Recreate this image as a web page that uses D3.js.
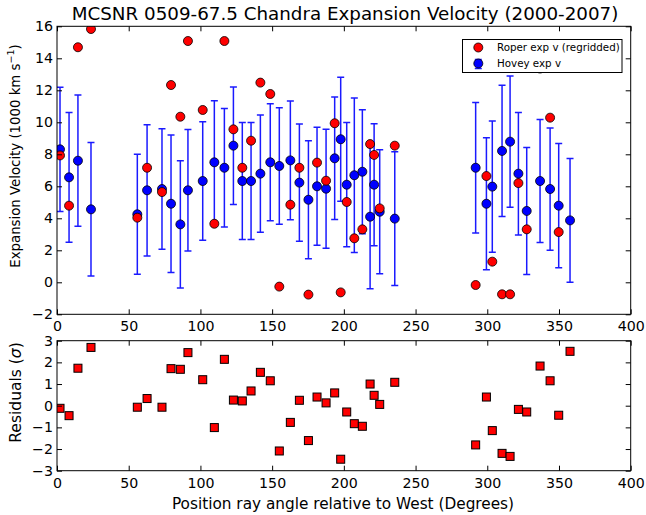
<!DOCTYPE html>
<html>
<head>
<meta charset="utf-8">
<script src="https://cdn.jsdelivr.net/npm/d3@7"></script>
<style>
  html, body { margin: 0; padding: 0; background: #fff; }
  svg { display: block; }
  text { font-family: "DejaVu Sans", sans-serif; fill: #000; }
</style>
</head>
<body>
<div id="chart"></div>
<script>
// ---- data ----
const angles = [2.1, 8.4, 14.6, 23.7, 56.0, 62.8, 73.2, 79.5, 86.0, 91.3, 101.6, 109.7, 116.7, 123.0, 129.2, 135.3, 141.8, 148.7, 155.0, 162.7, 169.0, 175.3, 181.3, 187.6, 193.6, 197.8, 202.0, 207.3, 212.9, 218.3, 221.1, 225.0, 235.5, 291.9, 299.4, 303.5, 310.3, 315.9, 321.7, 327.5, 336.8, 343.8, 349.8, 357.7];
const hoveyV = [8.31, 6.56, 7.60, 4.56, 4.25, 5.75, 5.83, 4.91, 3.62, 5.75, 6.33, 7.50, 7.16, 8.54, 6.33, 6.33, 6.79, 7.50, 7.27, 7.62, 6.23, 5.16, 6.00, 5.85, 7.75, 8.94, 6.10, 6.69, 6.91, 4.10, 6.10, 4.41, 3.98, 7.16, 4.91, 5.98, 8.21, 8.79, 6.79, 4.46, 6.33, 5.83, 4.79, 3.87];
const hoveyErr = [3.88, 4.05, 4.10, 4.17, 3.75, 4.10, 3.77, 4.30, 3.97, 3.80, 3.70, 3.85, 3.70, 3.67, 3.65, 3.65, 3.66, 3.66, 3.64, 3.71, 3.66, 3.69, 3.69, 3.72, 3.83, 3.88, 3.88, 4.83, 3.87, 4.50, 3.81, 3.88, 4.18, 4.08, 4.13, 4.10, 4.10, 4.10, 3.83, 3.97, 3.84, 3.82, 3.88, 3.87];
const roperV = [7.93, 4.79, 14.69, 15.83, 4.04, 7.16, 5.64, 12.33, 10.35, 15.08, 10.77, 3.66, 15.08, 9.56, 7.16, 8.85, 12.48, 11.77, -0.27, 4.85, 7.16, -0.77, 7.48, 6.35, 9.94, -0.63, 5.02, 2.75, 3.31, 8.64, 7.96, 4.62, 8.54, -0.17, 6.64, 1.29, -0.75, -0.75, 6.20, 3.31, 13.36, 10.29, 3.14, 13.60];
const residuals = [-0.12, -0.46, 1.73, 2.69, -0.07, 0.33, -0.07, 1.71, 1.68, 2.45, 1.20, -1.01, 2.14, 0.26, 0.22, 0.68, 1.54, 1.15, -2.09, -0.77, 0.25, -1.61, 0.40, 0.13, 0.59, -2.47, -0.29, -0.83, -0.95, 1.00, 0.48, 0.06, 1.08, -1.81, 0.40, -1.15, -2.20, -2.34, -0.17, -0.29, 1.83, 1.15, -0.44, 2.51];

const xTicks = [0, 50, 100, 150, 200, 250, 300, 350, 400];
const yTicksTop = [-2, 0, 2, 4, 6, 8, 10, 12, 14, 16];
const yTicksRes = [-3, -2, -1, 0, 1, 2, 3];

const titleText = "MCSNR 0509-67.5 Chandra Expansion Velocity (2000-2007)";
const xLabelText = "Position ray angle relative to West (Degrees)";
const legendLabels = ["Roper exp v (regridded)", "Hovey exp v"];

// ---- layout ----
const W = 646, H = 515;
const L = 57, R = 630.7;
const topY0 = 26.3, topY1 = 314.3;
const resY0 = 340.7, resY1 = 470.7;

const svg = d3.select("#chart").append("svg").attr("width", W).attr("height", H);
svg.append("rect").attr("width", W).attr("height", H).attr("fill", "#fff");

const x = d3.scaleLinear().domain([0, 400]).range([L, R]);
const yTop = d3.scaleLinear().domain([-2, 16]).range([topY1, topY0]);
const yRes = d3.scaleLinear().domain([-3, 3]).range([resY1, resY0]);

const fmt = d3.format("d");
const TICK = 5;

function drawAxes(y, y0, y1, yTicks) {
  const g = svg.append("g");
  g.append("g").attr("transform", `translate(0,${y1})`)
    .call(d3.axisBottom(x).tickValues(xTicks).tickFormat(fmt).tickSizeInner(-TICK).tickSizeOuter(0).tickPadding(7));
  g.append("g").attr("transform", `translate(0,${y0})`)
    .call(d3.axisTop(x).tickValues(xTicks).tickFormat("").tickSizeInner(-TICK).tickSizeOuter(0));
  g.append("g").attr("transform", `translate(${L},0)`)
    .call(d3.axisLeft(y).tickValues(yTicks).tickFormat(fmt).tickSizeInner(-TICK).tickSizeOuter(0).tickPadding(4));
  g.append("g").attr("transform", `translate(${R},0)`)
    .call(d3.axisRight(y).tickValues(yTicks).tickFormat("").tickSizeInner(-TICK).tickSizeOuter(0));
  g.selectAll(".domain").remove();
  g.selectAll(".tick line").attr("stroke", "#000").attr("stroke-width", 1);
  g.selectAll(".tick text").attr("font-size", 14.2).attr("font-family", "DejaVu Sans").attr("fill", "#000");
  g.append("rect").attr("x", L).attr("y", y0).attr("width", R - L).attr("height", y1 - y0)
    .attr("fill", "none").attr("stroke", "#000").attr("stroke-width", 1);
}

// ---- top panel ----
svg.append("clipPath").attr("id", "clipTop").append("rect")
  .attr("x", L).attr("y", topY0).attr("width", R - L).attr("height", topY1 - topY0);
const pTop = svg.append("g").attr("clip-path", "url(#clipTop)");

const idx = d3.range(angles.length);
const errColor = "#1a1aff";
const eb = pTop.append("g").attr("stroke", errColor).attr("stroke-width", 1.5);
eb.selectAll("line.v").data(idx).join("line").attr("class", "v")
  .attr("x1", i => x(angles[i])).attr("x2", i => x(angles[i]))
  .attr("y1", i => yTop(hoveyV[i] - hoveyErr[i])).attr("y2", i => yTop(hoveyV[i] + hoveyErr[i]));
eb.selectAll("line.cu").data(idx).join("line").attr("class", "cu")
  .attr("x1", i => x(angles[i]) - 3.5).attr("x2", i => x(angles[i]) + 3.5)
  .attr("y1", i => yTop(hoveyV[i] + hoveyErr[i])).attr("y2", i => yTop(hoveyV[i] + hoveyErr[i]));
eb.selectAll("line.cl").data(idx).join("line").attr("class", "cl")
  .attr("x1", i => x(angles[i]) - 3.5).attr("x2", i => x(angles[i]) + 3.5)
  .attr("y1", i => yTop(hoveyV[i] - hoveyErr[i])).attr("y2", i => yTop(hoveyV[i] - hoveyErr[i]));

pTop.append("g").selectAll("circle").data(idx).join("circle")
  .attr("cx", i => x(angles[i])).attr("cy", i => yTop(hoveyV[i])).attr("r", 4.5)
  .attr("fill", "#0000ff").attr("stroke", "#000").attr("stroke-width", 0.8);

pTop.append("g").selectAll("circle").data(idx).join("circle")
  .attr("cx", i => x(angles[i])).attr("cy", i => yTop(roperV[i])).attr("r", 4.5)
  .attr("fill", "#ff0000").attr("stroke", "#000").attr("stroke-width", 0.8);

drawAxes(yTop, topY0, topY1, yTicksTop);

// legend
const lg = svg.append("g");
lg.append("rect").attr("x", 462.5).attr("y", 39.5).attr("width", 159.5).attr("height", 33)
  .attr("fill", "#fff").attr("stroke", "#000").attr("stroke-width", 1);
lg.append("circle").attr("cx", 478.3).attr("cy", 47.5).attr("r", 4.5)
  .attr("fill", "#ff0000").attr("stroke", "#000").attr("stroke-width", 0.8);
lg.append("line").attr("x1", 478.3).attr("x2", 478.3).attr("y1", 59.5).attr("y2", 68.5).attr("stroke", errColor).attr("stroke-width", 1.5);
lg.append("line").attr("x1", 474.8).attr("x2", 481.8).attr("y1", 59.5).attr("y2", 59.5).attr("stroke", errColor).attr("stroke-width", 1.5);
lg.append("line").attr("x1", 474.8).attr("x2", 481.8).attr("y1", 68.5).attr("y2", 68.5).attr("stroke", errColor).attr("stroke-width", 1.5);
lg.append("circle").attr("cx", 478.3).attr("cy", 63.5).attr("r", 4.5)
  .attr("fill", "#0000ff").attr("stroke", "#000").attr("stroke-width", 0.8);
lg.selectAll("text.l").data(legendLabels).join("text").attr("class", "l")
  .attr("x", 497).attr("y", (d, i) => 51.2 + i * 16).attr("font-size", 10.3).text(d => d);

// ---- residual panel ----
svg.append("clipPath").attr("id", "clipRes").append("rect")
  .attr("x", L).attr("y", resY0).attr("width", R - L).attr("height", resY1 - resY0);
const pRes = svg.append("g").attr("clip-path", "url(#clipRes)");
const S = 8;
pRes.selectAll("rect").data(idx).join("rect")
  .attr("x", i => x(angles[i]) - S / 2).attr("y", i => yRes(residuals[i]) - S / 2)
  .attr("width", S).attr("height", S)
  .attr("fill", "#ff0000").attr("stroke", "#000").attr("stroke-width", 1);

drawAxes(yRes, resY0, resY1, yTicksRes);

// ---- texts ----
svg.append("text").attr("x", 345).attr("y", 20).attr("text-anchor", "middle")
  .attr("font-size", 18.3).text(titleText);

svg.append("text").attr("x", 343).attr("y", 508.5).attr("text-anchor", "middle")
  .attr("font-size", 15.3).text(xLabelText);

const yl = svg.append("text").attr("transform", `translate(19.5,156) rotate(-90)`)
  .attr("text-anchor", "middle").attr("font-size", 13.3);
yl.append("tspan").text("Expansion Velocity (1000 km s");
yl.append("tspan").attr("font-size", 9.5).attr("dy", -6).text("\u22121");
yl.append("tspan").attr("dy", 6).text(")");

const rl = svg.append("text").attr("transform", `translate(20.5,392.5) rotate(-90)`)
  .attr("text-anchor", "middle").attr("font-size", 15.5);
rl.append("tspan").text("Residuals (");
rl.append("tspan").attr("font-style", "italic").text("\u03c3");
rl.append("tspan").text(")");
</script>
</body>
</html>
